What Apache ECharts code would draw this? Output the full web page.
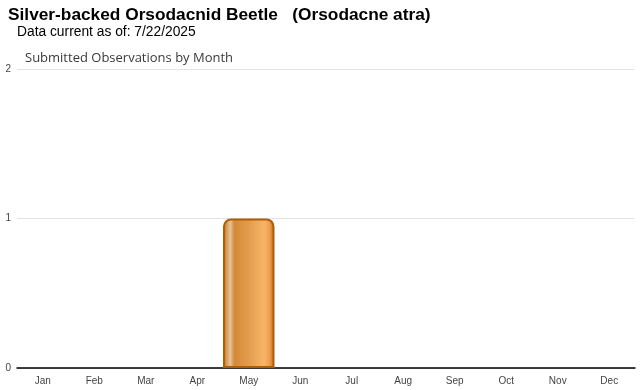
<!DOCTYPE html>
<html><head><meta charset="utf-8">
<script src="https://cdn.jsdelivr.net/npm/echarts@6/dist/echarts.min.js"></script>
<style>html,body{margin:0;padding:0;background:#fff}#c{width:640px;height:390px}</style>
</head><body><div id="c"></div>
<script>
const months = ['Jan','Feb','Mar','Apr','May','Jun','Jul','Aug','Sep','Oct','Nov','Dec'];
const observations = [0,0,0,0,1,0,0,0,0,0,0,0];
const yTicks = [0,1,2];

const chart = echarts.init(document.getElementById('c'), null, {renderer:'canvas'});
const barGrad = new echarts.graphic.LinearGradient(0,0,1,0,[
  {offset:0, color:'#c2700f'},
  {offset:0.07, color:'#d89a55'},
  {offset:0.14, color:'#e6c39c'},
  {offset:0.22, color:'#d48a38'},
  {offset:0.5, color:'#e49c4c'},
  {offset:0.8, color:'#f7b567'},
  {offset:0.9, color:'#eda050'},
  {offset:1, color:'#c06c0c'}
]);
chart.setOption({
  animation:false,
  title:[
    {text:'Silver-backed Orsodacnid Beetle   (Orsodacne atra)', left:8, top:7, padding:0,
     textStyle:{fontFamily:'Liberation Sans, Arial', fontSize:17.3, fontWeight:'bold', color:'#000'}},
    {text:'Data current as of: 7/22/2025', left:17, top:25, padding:0,
     textStyle:{fontFamily:'Liberation Sans, Arial', fontSize:13.8, fontWeight:'normal', color:'#000'}},
    {text:'Submitted Observations by Month', left:25, top:52, padding:0,
     textStyle:{fontFamily:'Open Sans, DejaVu Sans', fontSize:13, fontWeight:'normal', color:'#3a3a3a'}}
  ],
  grid:{left:17, right:5, top:69, bottom:22, containLabel:false},
  xAxis:{type:'category', data:months,
    axisLine:{lineStyle:{color:'#000', width:1.5}},
    axisTick:{alignWithLabel:true, lineStyle:{color:'#ccc'}, length:4},
    axisLabel:{fontFamily:'Liberation Sans, Arial', fontSize:10, color:'#444', margin:8}},
  yAxis:{type:'value', min:0, max:2, interval:1,
    axisLine:{show:false}, axisTick:{show:false},
    splitLine:{lineStyle:{color:'#e3e3e3'}},
    axisLabel:{fontFamily:'Liberation Sans, Arial', fontSize:10, color:'#444', margin:6,
      formatter:v=>yTicks.includes(v)?String(v):''}},
  series:[{type:'bar', data:observations.map(v=>v===0?null:v), barCategoryGap:'0%',
    itemStyle:{color:barGrad, borderColor:'#ad5f06', borderWidth:2, borderRadius:[7,7,0,0]}}]
});
</script></body></html>
